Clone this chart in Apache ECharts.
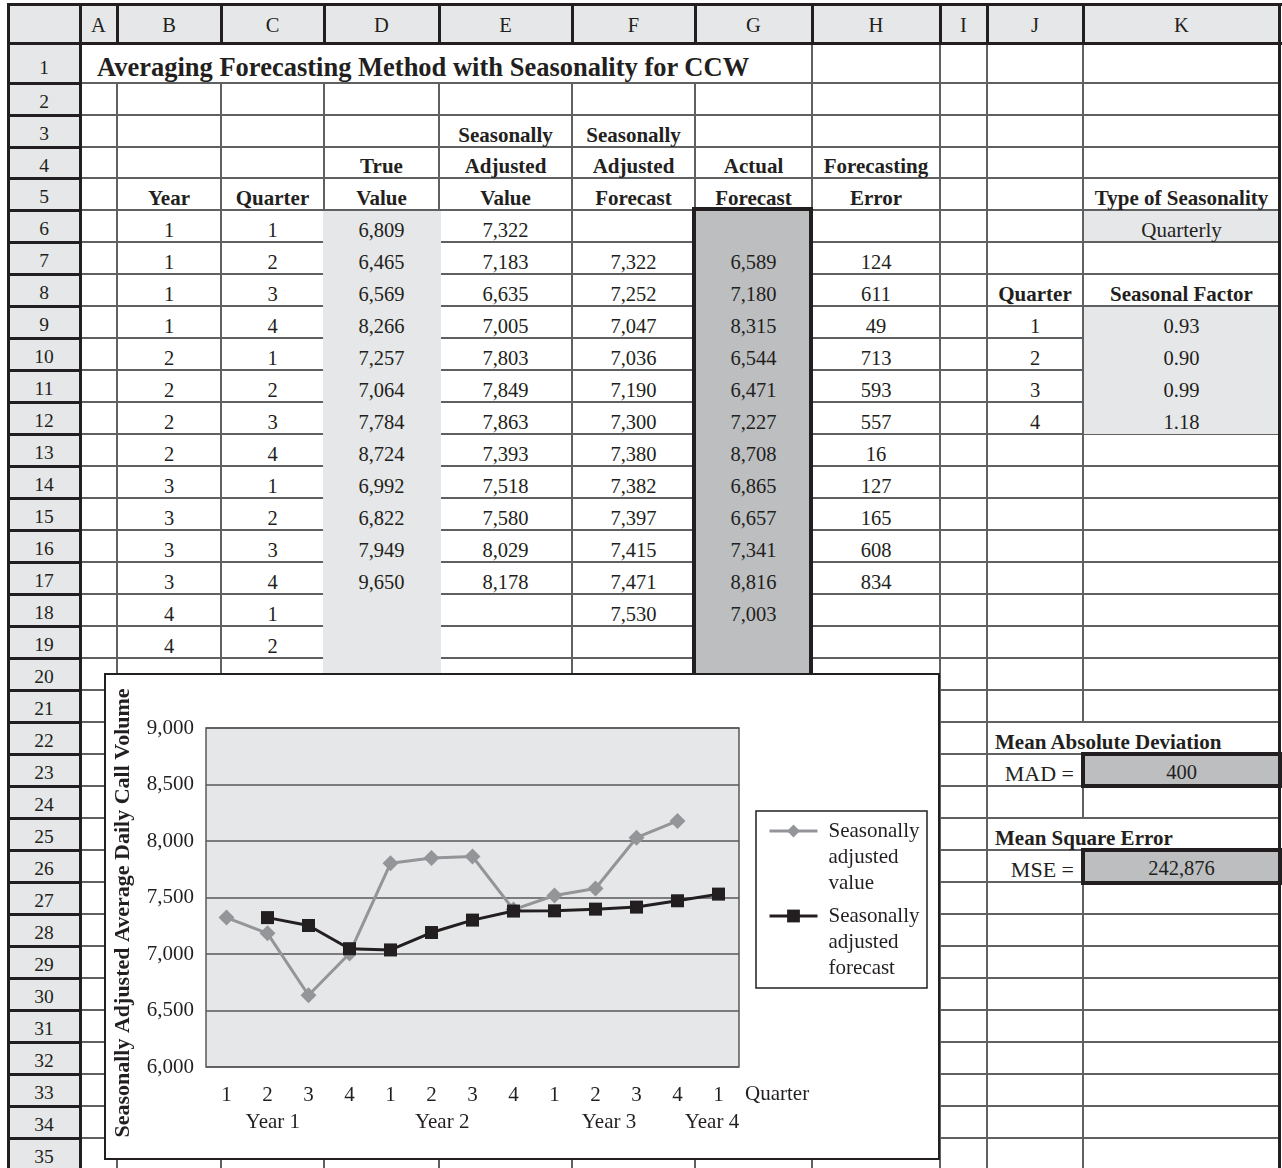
<!DOCTYPE html>
<html>
<head>
<meta charset="utf-8">
<script src="https://cdn.jsdelivr.net/npm/echarts@6/dist/echarts.min.js"></script>
<style>
html,body{margin:0;padding:0;background:#fff;}
#sheet{position:relative;width:1282px;height:1168px;overflow:hidden;background:#fff;font-family:'Liberation Serif','Times New Roman',serif;color:#231f20;}
.c{position:absolute;box-sizing:border-box;text-align:center;white-space:nowrap;font-size:20.5px;}
.b{font-weight:bold;font-size:21px;}
</style>
</head>
<body>
<div id="sheet"></div>
<script>
// ---------- DATA ----------
const columnLetters = ['A','B','C','D','E','F','G','H','I','J','K'];
const years = [1,1,1,1,2,2,2,2,3,3,3,3,4,4];
const quarters = [1,2,3,4,1,2,3,4,1,2,3,4,1,2];
const trueValue = [6809,6465,6569,8266,7257,7064,7784,8724,6992,6822,7949,9650];
const saValue = [7322,7183,6635,7005,7803,7849,7863,7393,7518,7580,8029,8178];
const saForecast = [null,7322,7252,7047,7036,7190,7300,7380,7382,7397,7415,7471,7530];
const actualForecast = [null,6589,7180,8315,6544,6471,7227,8708,6865,6657,7341,8816,7003];
const forecastError = [null,124,611,49,713,593,557,16,127,165,608,834];
const seasonQuarters = [1,2,3,4];
const seasonalFactor = ['0.93','0.90','0.99','1.18'];
const madValue = 400;
const mseValue = 242876;
const chartQuarterLabels = ['1','2','3','4','1','2','3','4','1','2','3','4','1'];
const yearLabels = ['Year 1','Year 2','Year 3','Year 4'];
const xAxisTitle = 'Quarter';
const seriesNames = ['Seasonally adjusted value','Seasonally adjusted forecast'];
const yTitle = 'Seasonally Adjusted Average Daily Call Volume';
const sheetTitle = 'Averaging Forecasting Method with Seasonality for CCW';

// ---------- SHEET LAYOUT ----------
const fmt = v => (v === null || v === undefined) ? '' : String(v).replace(/\B(?=(\d{3})+(?!\d))/g, ',');
const sheet = document.getElementById('sheet');
const colX = [8,80,117,221,324,439,572,695,812,940,987,1083,1280];
const rowY = [4,43,83,115,147,178,210];
while (rowY.length < 37) rowY.push(rowY[rowY.length-1] + 32);
const THIN = '#5f6062', DARK = '#231f20', LIGHT = '#e6e7e8', MID = '#bcbec0';

function box(x, y, w, h, css) {
  const d = document.createElement('div');
  d.style.cssText = `position:absolute;left:${x}px;top:${y}px;width:${w}px;height:${h}px;box-sizing:border-box;` + (css || '');
  sheet.appendChild(d);
  return d;
}
function txt(x1, x2, y1, y2, text, o) {
  o = o || {};
  const d = document.createElement('div');
  d.className = 'c' + (o.bold ? ' b' : '');
  const h = y2 - y1;
  d.style.left = x1 + 'px'; d.style.width = (x2 - x1) + 'px';
  d.style.top = y1 + 'px'; d.style.height = h + 'px';
  d.style.lineHeight = h + 'px';
  d.style.paddingTop = (o.dy !== undefined ? o.dy : 4) + 'px';
  if (o.align) d.style.textAlign = o.align;
  if (o.pl) d.style.paddingLeft = o.pl + 'px';
  if (o.pr) d.style.paddingRight = o.pr + 'px';
  if (o.size) d.style.fontSize = o.size + 'px';
  d.textContent = text;
  sheet.appendChild(d);
}
function cell(ci, ri, text, o) { txt(colX[ci], colX[ci+1], rowY[ri], rowY[ri+1], text, o); }

// header fills
box(8, 4, 1272, 39, `background:${LIGHT}`);
box(8, 43, 72, 1127, `background:${LIGHT}`);
// thin grid
for (let ci = 2; ci <= 11; ci++) { const y0 = ci >= 8 ? 43 : 83; box(colX[ci]-1, y0, 2, 1170-y0, `background:${THIN}`); }
for (let ri = 2; ri <= 36; ri++) { box(80, rowY[ri]-1, 1200, 2, `background:${THIN}`); }
// fills / overflow covers
box(323, 211, 118, 500, `background:${LIGHT}`);
box(1084, 211, 196, 30, `background:${LIGHT}`);
box(1084, 307, 196, 127, `background:${LIGHT}`);
box(1080, rowY[22]+1, 6, 30, 'background:#fff');
box(1080, rowY[25]+1, 6, 30, 'background:#fff');
box(692, 207, 121, 500, `background:${MID};border:4px solid ${DARK}`);
box(1081, 752, 201, 36, `background:${MID};border:4px solid ${DARK}`);
box(1081, 848, 201, 37, `background:${MID};border:4px solid ${DARK}`);
// thick frame lines
const thick = (x, y, w, h) => box(x, y, w, h, `background:${DARK}`);
thick(7, 3, 1275, 3);
thick(7, 42, 1275, 3);
thick(7, 3, 3, 1170);
thick(79, 3, 3, 1170);
thick(1278, 3, 3, 1170);
for (let ci = 2; ci <= 11; ci++) thick(colX[ci]-1, 3, 3, 40);
for (let ri = 2; ri <= 36; ri++) thick(7, rowY[ri]-1, 75, 3);

// column letters and row numbers
columnLetters.forEach((L, i) => cell(i+1, 0, L, {dy: 2}));
for (let r = 1; r <= 35; r++) cell(0, r, String(r), {size: 19.5, dy: r === 1 ? 5 : 3});

// title
txt(80, 812, rowY[1], rowY[2], sheetTitle, {bold: true, size: 26.5, align: 'left', pl: 17, dy: 4});

// headings
const H = {bold: true};
cell(5, 3, 'Seasonally', H); cell(6, 3, 'Seasonally', H);
cell(4, 4, 'True', H); cell(5, 4, 'Adjusted', H); cell(6, 4, 'Adjusted', H); cell(7, 4, 'Actual', H); cell(8, 4, 'Forecasting', H);
cell(2, 5, 'Year', H); cell(3, 5, 'Quarter', H); cell(4, 5, 'Value', H); cell(5, 5, 'Value', H); cell(6, 5, 'Forecast', H); cell(7, 5, 'Forecast', H); cell(8, 5, 'Error', H);
cell(11, 5, 'Type of Seasonality', H);
cell(11, 6, 'Quarterly', {size: 21});
cell(10, 8, 'Quarter', H); cell(11, 8, 'Seasonal Factor', H);
seasonQuarters.forEach((q, i) => { cell(10, 9+i, String(q)); cell(11, 9+i, seasonalFactor[i]); });

// data rows
years.forEach((y, i) => {
  const r = 6 + i;
  cell(2, r, String(y));
  cell(3, r, String(quarters[i]));
  cell(4, r, fmt(trueValue[i]));
  cell(5, r, fmt(saValue[i]));
  cell(6, r, fmt(saForecast[i]));
  cell(7, r, fmt(actualForecast[i]));
  cell(8, r, fmt(forecastError[i]));
});

// error measures
txt(987, 1283, rowY[22], rowY[23], 'Mean Absolute Deviation', {bold: true, align: 'left', pl: 8});
cell(10, 23, 'MAD =', {align: 'right', pr: 9, size: 22});
cell(11, 23, fmt(madValue), {dy: 2});
txt(987, 1283, rowY[25], rowY[26], 'Mean Square Error', {bold: true, align: 'left', pl: 8});
cell(10, 26, 'MSE =', {align: 'right', pr: 9, size: 22});
cell(11, 26, fmt(mseValue), {dy: 2});

// ---------- CHART ----------
const chartDiv = box(104, 673, 836, 487, 'background:#fff;');
chartDiv.id = 'chart';
box(104, 673, 836, 487, `border:2px solid ${DARK};pointer-events:none;`);

const F = "'Liberation Serif','Times New Roman',serif";
const INK = '#231f20', GREY = '#939598';
const yearLabelPos = [1.63, 5.76, 9.83, 12.34];

const legendCommon = {
  orient: 'vertical', padding: 0, itemWidth: 48, itemHeight: 16, itemGap: 0, selectedMode: false,
  lineStyle: {width: 3},
  textStyle: {fontFamily: F, fontSize: 21, color: INK, lineHeight: 26, padding: [0, 0, 0, 6]},
  formatter: n => '\n\n' + n.split(' ').join('\n')
};

const chart = echarts.init(chartDiv, null, {renderer: 'canvas'});
chart.setOption({
  animation: false,
  backgroundColor: '#fff',
  textStyle: {fontFamily: F, color: INK},
  grid: {left: 101, top: 55, width: 534, height: 339, show: true, backgroundColor: LIGHT, borderColor: '#58595b', borderWidth: 1.5},
  graphic: [
    {type: 'rect', shape: {x: 652, y: 138, width: 171, height: 177}, style: {fill: '#fff', stroke: INK, lineWidth: 1.5}, z: 1},
    {type: 'text', x: 641, y: 421, style: {text: xAxisTitle, fill: INK, font: "21px 'Liberation Serif', 'Times New Roman', serif", align: 'left', verticalAlign: 'middle'}, z: 5}
  ],
  legend: [
    Object.assign({}, legendCommon, {data: [seriesNames[0]], left: 664, top: 93}),
    Object.assign({}, legendCommon, {data: [seriesNames[1]], left: 664, top: 178})
  ],
  xAxis: [
    {
      type: 'category', data: chartQuarterLabels, boundaryGap: true,
      axisLine: {show: false}, axisTick: {show: false}, splitLine: {show: false},
      axisLabel: {interval: 0, fontSize: 21, color: INK, fontFamily: F, margin: 18}
    },
    {
      type: 'value', min: 0, max: 13, position: 'bottom',
      axisLine: {show: false}, axisTick: {show: false}, splitLine: {show: false},
      axisLabel: {
        customValues: yearLabelPos, fontSize: 21, color: INK, fontFamily: F, margin: 45,
        formatter: v => { const k = yearLabelPos.findIndex(p => Math.abs(p - v) < 1e-6); return k >= 0 ? yearLabels[k] : ''; }
      }
    }
  ],
  yAxis: {
    type: 'value', min: 6000, max: 9000, interval: 500,
    axisLine: {show: false}, axisTick: {show: false},
    splitLine: {lineStyle: {color: '#58595b', width: 1.5}},
    axisLabel: {fontSize: 21, color: INK, fontFamily: F, margin: 12, formatter: v => fmt(v)},
    name: yTitle, nameLocation: 'middle', nameGap: 72,
    nameTextStyle: {fontWeight: 'bold', fontSize: 22, color: INK, fontFamily: F, padding: [0, 31, 0, 0]}
  },
  series: [
    {name: seriesNames[0], type: 'line', data: saValue, symbol: 'diamond', symbolSize: 16, showSymbol: true,
     itemStyle: {color: GREY}, lineStyle: {color: GREY, width: 3}, z: 2},
    {name: seriesNames[1], type: 'line', data: saForecast, symbol: 'rect', symbolSize: 13, showSymbol: true,
     itemStyle: {color: INK}, lineStyle: {color: INK, width: 3}, z: 3}
  ]
});
</script>
</body>
</html>
